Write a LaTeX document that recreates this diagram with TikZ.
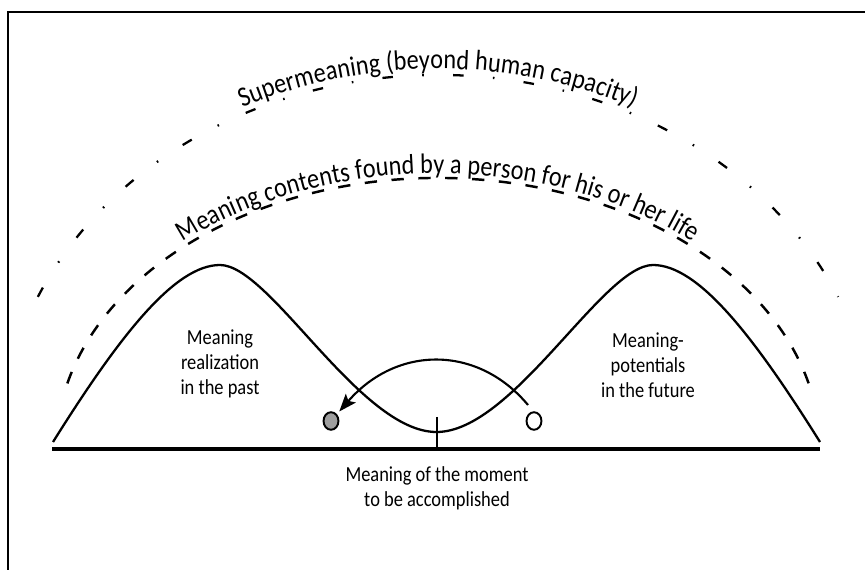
\documentclass[tikz,border=0pt]{standalone}
\usepackage{fontspec}
\setmainfont{Carlito}[FakeStretch=0.86]
\usetikzlibrary{arrows.meta,shapes.geometric,decorations.text}

\begin{document}
\begin{tikzpicture}[
  x=0.02cm, y=-0.02cm,
  font=\fontsize{12.2}{14.2}\selectfont,
  >={Stealth[length=10pt, width=7.5pt, inset=2pt]},
  frame/.style={line width=0.7pt},
  bell/.style={line width=1.3pt, line join=round},
  ground/.style={line width=2pt},
  lifearc/.style={line width=1.4pt, dash pattern=on 7pt off 8.3pt},
  superarc/.style={line width=1.3pt, dash pattern=on 6pt off 16.7pt on 0.9pt off 16.7pt},
  arctext/.style={decorate, decoration={text along path, text align=center, raise=#1}},
  lbl/.style={align=center, inner sep=0pt},
  dot/.style={ellipse, draw, line width=1.1pt, minimum width=8.5pt, minimum height=10pt,
              inner sep=0pt, outer sep=2.5pt},
  arr/.style={->, line width=1.2pt},
]
\useasboundingbox (0,0) rectangle (865,570);

%% ---------- frame ----------
\draw[frame] (8,570) -- (8,12) -- (865,12);

%% ---------- outer arcs and their texts ----------
\draw[superarc] (438,449) ++(-156:438 and 374) arc[start angle=-156, end angle=-24, x radius=438, y radius=374];
\path[arctext=3.5pt, decoration={text={|\fontsize{16}{18}\selectfont|Supermeaning (beyond human capacity)}}]
  (438,449) ++(-156:438 and 374) arc[start angle=-156, end angle=-24, x radius=438, y radius=374];

\draw[lifearc] (438,449) ++(-166:382 and 271) arc[start angle=-166, end angle=-14, x radius=382, y radius=271];
\path[arctext=2.5pt, decoration={text={|\fontsize{16}{18}\selectfont|Meaning contents found by a person for his or her life}}]
  (438,449) ++(-166:382 and 271) arc[start angle=-166, end angle=-14, x radius=382, y radius=271];

%% ---------- past / future curve and ground line ----------
\draw[bell] (53,442) .. controls (120,335) and (175,265) .. (220,265)
  .. controls (270,265) and (360,432) .. (436.5,432)
  .. controls (513,432) and (603,265) .. (653,265)
  .. controls (698,265) and (753,335) .. (820,442);
\draw[ground] (52,449) -- (820,449);
\draw[line width=1.3pt] (437,417) -- (437,449);

%% ---------- labels ----------
\node[lbl] (past) at (220,364) {Meaning\\ realization\\ in the past};
\node[lbl] (future) at (648,365) {Meaning-\\ potentials\\ in the future};
\node[lbl] (moment) at (437,488) {Meaning of the moment\\ to be accomplished};

%% ---------- moment dots and arrow ----------
\node[dot, fill=black!38] (pastdot) at (331,421) {};
\node[dot, fill=white] (futuredot) at (534,421) {};
\coordinate (arrstart) at (528,405);
\draw[arr] (arrstart) .. controls (478,345) and (397,345) .. (pastdot);

\end{tikzpicture}
\end{document}
